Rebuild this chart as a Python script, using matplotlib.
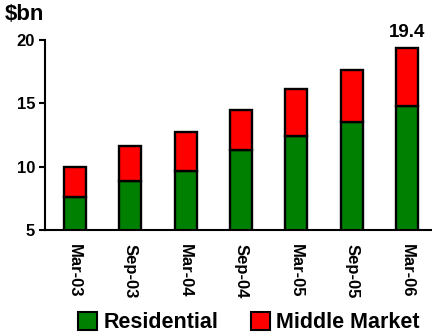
import matplotlib
matplotlib.use("Agg")
import matplotlib.pyplot as plt
from matplotlib.patches import Patch

categories = ["Mar-03", "Sep-03", "Mar-04", "Sep-04", "Mar-05", "Sep-05", "Mar-06"]
residential = [7.6, 8.9, 9.7, 11.3, 12.4, 13.5, 14.8]
middle_market = [2.4, 2.7, 3.0, 3.2, 3.7, 4.1, 4.6]
total_label = "19.4"

plt.rcParams['font.family'] = ['Liberation Sans', 'DejaVu Sans']
plt.rcParams['font.weight'] = 'bold'

fig = plt.figure(figsize=(4.32, 3.33), dpi=100)
ax = fig.add_axes([0.104, 0.309, 0.896, 0.571])

x = list(range(len(categories)))
green = '#008000'
red = '#ff0000'
ax.bar(x, residential, width=0.4, color=green, edgecolor='black', linewidth=1.7, zorder=2)
ax.bar(x, middle_market, width=0.4, bottom=residential, color=red, edgecolor='black', linewidth=1.7, zorder=2)

ax.set_ylim(5, 20)
ax.set_xlim(-0.54, 6.45)
ax.set_yticks([5, 10, 15, 20])
ax.set_xticks(x)
ax.set_xticklabels(categories, rotation=270, fontsize=12, fontweight='bold')
ax.tick_params(axis='x', length=0, pad=10)
ax.tick_params(axis='y', length=4, width=1.5, labelsize=12, pad=3)
for t in ax.get_yticklabels():
    t.set_fontweight('bold')
ax.spines['top'].set_visible(False)
ax.spines['right'].set_visible(False)
ax.spines['left'].set_linewidth(1.5)
ax.spines['bottom'].set_linewidth(1.5)

tot = residential[-1] + middle_market[-1]
ax.text(x[-1], tot + 0.5, total_label, ha='center', va='bottom', fontsize=13.5, fontweight='bold')

fig.text(0.012, 0.955, "$bn", ha='left', va='center', fontsize=16, fontweight='bold')

handles = [Patch(facecolor=green, edgecolor='black', linewidth=1.5, label='Residential'),
           Patch(facecolor=red, edgecolor='black', linewidth=1.5, label='Middle Market')]
fig.legend(handles=handles, loc='center', bbox_to_anchor=(0.576, 0.032), ncol=2, frameon=False,
           prop={'size': 15.5, 'weight': 'bold'}, handlelength=0.9, handleheight=0.9,
           handletextpad=0.3, columnspacing=1.5, borderaxespad=0)

fig.savefig("out.png", dpi=100)
